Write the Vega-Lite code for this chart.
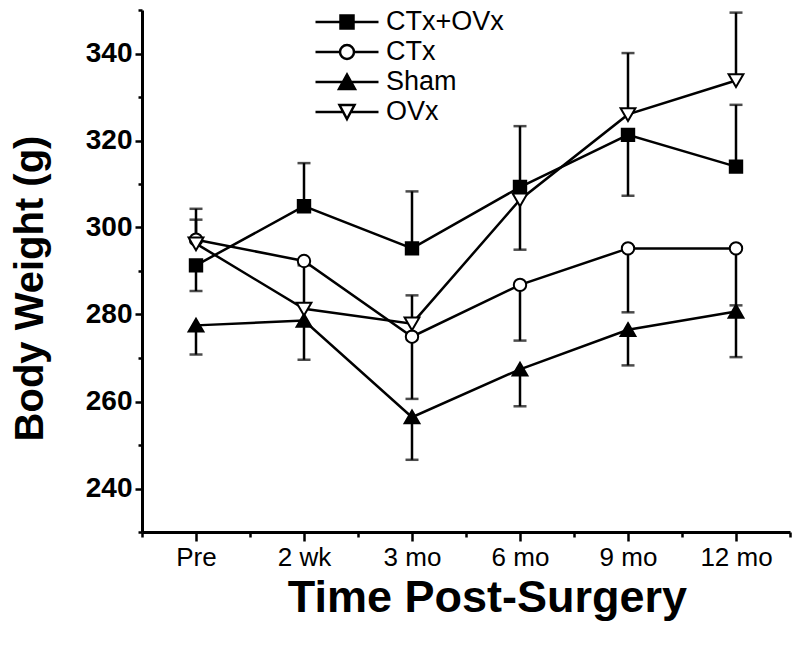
{
  "$schema": "https://vega.github.io/schema/vega-lite/v6.json",
  "width": 648,
  "height": 522,
  "autosize": {"type": "none"},
  "padding": {"left": 142, "top": 10, "right": 10, "bottom": 113},
  "background": "white",
  "config": {"view": {"stroke": null}, "font": "Liberation Sans"},
  "data": {"values": [
    {"time": 1, "series": "CTx+OVx", "weight": 291.3, "lo": 285.4, "hi": 291.3},
    {"time": 2, "series": "CTx+OVx", "weight": 304.9, "lo": 304.9, "hi": 314.8},
    {"time": 3, "series": "CTx+OVx", "weight": 295.2, "lo": 295.2, "hi": 308.3},
    {"time": 4, "series": "CTx+OVx", "weight": 309.3, "lo": 309.3, "hi": 323.3},
    {"time": 5, "series": "CTx+OVx", "weight": 321.3, "lo": 307.3, "hi": 321.3},
    {"time": 6, "series": "CTx+OVx", "weight": 314.0, "lo": 314.0, "hi": 328.2},
    {"time": 1, "series": "CTx", "weight": 297.2, "lo": 297.2, "hi": 304.3},
    {"time": 2, "series": "CTx", "weight": 292.3, "lo": 292.3, "hi": 292.3},
    {"time": 3, "series": "CTx", "weight": 274.9, "lo": 260.6, "hi": 274.9},
    {"time": 4, "series": "CTx", "weight": 286.8, "lo": 274.0, "hi": 286.8},
    {"time": 5, "series": "CTx", "weight": 295.2, "lo": 280.5, "hi": 295.2},
    {"time": 6, "series": "CTx", "weight": 295.2, "lo": 282.1, "hi": 295.2},
    {"time": 1, "series": "Sham", "weight": 277.5, "lo": 270.8, "hi": 277.5},
    {"time": 2, "series": "Sham", "weight": 278.6, "lo": 269.6, "hi": 278.6},
    {"time": 3, "series": "Sham", "weight": 256.4, "lo": 246.6, "hi": 256.4},
    {"time": 4, "series": "Sham", "weight": 267.4, "lo": 258.9, "hi": 267.4},
    {"time": 5, "series": "Sham", "weight": 276.5, "lo": 268.3, "hi": 276.5},
    {"time": 6, "series": "Sham", "weight": 280.7, "lo": 270.2, "hi": 280.7},
    {"time": 1, "series": "OVx", "weight": 296.3, "lo": 296.3, "hi": 301.8},
    {"time": 2, "series": "OVx", "weight": 281.3, "lo": 281.3, "hi": 291.3},
    {"time": 3, "series": "OVx", "weight": 277.9, "lo": 277.9, "hi": 284.4},
    {"time": 4, "series": "OVx", "weight": 306.4, "lo": 294.9, "hi": 306.4},
    {"time": 5, "series": "OVx", "weight": 326.0, "lo": 326.0, "hi": 340.1},
    {"time": 6, "series": "OVx", "weight": 333.8, "lo": 333.8, "hi": 349.4}
  ]},
  "encoding": {
    "x": {
      "field": "time", "type": "quantitative",
      "scale": {"domain": [0.5, 6.5], "nice": false, "zero": false},
      "axis": {
        "values": [0.5, 1, 1.5, 2, 2.5, 3, 3.5, 4, 4.5, 5, 5.5, 6, 6.5],
        "labelExpr": "datum.value % 1 == 0 ? ['', 'Pre', '2 wk', '3 mo', '6 mo', '9 mo', '12 mo'][datum.value] : ''",
        "tickSize": {"condition": {"test": "datum.value % 1 == 0", "value": 9}, "value": 5},
        "tickWidth": 2.5, "tickColor": "black",
        "domainWidth": 3, "domainColor": "black",
        "grid": false,
        "labelFont": "Liberation Sans", "labelFontSize": 26, "labelColor": "black",
        "labelPadding": 3, "labelFlush": false, "labelOverlap": false,
        "title": "Time Post-Surgery",
        "titleFont": "Liberation Sans", "titleFontSize": 45, "titleFontWeight": "bold", "titleColor": "black",
        "titleX": 345, "titleY": 79, "titleBaseline": "alphabetic", "titleAlign": "center"
      }
    },
    "y": {
      "field": "weight", "type": "quantitative",
      "scale": {"domain": [230, 350], "nice": false, "zero": false},
      "axis": {
        "values": [230, 240, 250, 260, 270, 280, 290, 300, 310, 320, 330, 340, 350],
        "labelExpr": "datum.value % 20 == 0 ? datum.value : ''",
        "tickSize": {"condition": {"test": "datum.value % 20 == 0", "value": 7}, "value": 4},
        "tickWidth": 2.5, "tickColor": "black",
        "domainWidth": 3, "domainColor": "black",
        "grid": false,
        "labelFont": "Liberation Sans", "labelFontSize": 28, "labelFontWeight": "bold", "labelColor": "black",
        "labelPadding": 3, "labelOverlap": false, "labelFlush": false,
        "title": "Body Weight (g)",
        "titleFont": "Liberation Sans", "titleFontSize": 40, "titleFontWeight": "bold", "titleColor": "black",
        "titleX": -100, "titleY": 278, "titleAngle": 270, "titleBaseline": "alphabetic", "titleAlign": "center"
      }
    }
  },
  "resolve": {
    "scale": {"shape": "independent", "fill": "independent"},
    "legend": {"shape": "independent", "fill": "independent"}
  },
  "layer": [
    {
      "mark": {"type": "line", "color": "black", "strokeWidth": 2.5},
      "encoding": {"detail": {"field": "series"}}
    },
    {
      "mark": {"type": "rule", "color": "black", "strokeWidth": 2.5},
      "encoding": {
        "y": {"field": "lo", "type": "quantitative", "title": "Body Weight (g)"},
        "y2": {"field": "hi"}
      }
    },
    {
      "transform": [{"filter": "datum.hi > datum.weight"}],
      "mark": {"type": "tick", "orient": "horizontal", "color": "black", "size": 13, "thickness": 2.5},
      "encoding": {"y": {"field": "hi", "type": "quantitative", "title": "Body Weight (g)"}}
    },
    {
      "transform": [{"filter": "datum.lo < datum.weight"}],
      "mark": {"type": "tick", "orient": "horizontal", "color": "black", "size": 13, "thickness": 2.5},
      "encoding": {"y": {"field": "lo", "type": "quantitative", "title": "Body Weight (g)"}}
    },
    {
      "mark": {"type": "point", "filled": false, "stroke": "black", "strokeWidth": 2, "size": 400, "opacity": 1},
      "encoding": {
        "shape": {
          "field": "series", "type": "nominal", "legend": null,
          "scale": {
            "domain": ["CTx+OVx", "CTx", "Sham", "OVx"],
            "range": [
              "M-0.62,-0.62H0.62V0.62H-0.62Z",
              "M0.62,0A0.62,0.62,0,1,1,-0.62,0A0.62,0.62,0,1,1,0.62,0Z",
              "M0,-0.66L0.74,0.62L-0.74,0.62Z",
              "M0,0.66L0.74,-0.62L-0.74,-0.62Z"
            ]
          }
        },
        "fill": {
          "field": "series", "type": "nominal", "legend": null,
          "scale": {"domain": ["CTx+OVx", "CTx", "Sham", "OVx"], "range": ["black", "white", "black", "white"]}
        }
      }
    },
    {
      "mark": {"type": "point", "filled": false, "stroke": "black", "strokeWidth": 2.5, "opacity": 0},
      "encoding": {
        "shape": {
          "field": "series", "type": "nominal",
          "scale": {
            "domain": ["CTx+OVx", "CTx", "Sham", "OVx"],
            "range": [
              "M-6.3,0H6.3M-1.3,-1.3H1.3V1.3H-1.3Z",
              "M-6.3,0H-1.4M1.4,0H6.3M1.4,0A1.4,1.4,0,1,1,-1.4,0A1.4,1.4,0,1,1,1.4,0Z",
              "M-6.3,0H6.3M0,-1.5L1.6,1.4L-1.6,1.4Z",
              "M-6.3,0H-0.75M0.75,0H6.3M0,1.4L1.5,-1.4L-1.5,-1.4Z"
            ]
          },
          "legend": {
            "title": null, "orient": "none", "legendX": 191.5, "legendY": -1.5,
            "symbolSize": 100, "symbolStrokeWidth": 2.5, "symbolStrokeColor": "black",
            "labelFont": "Liberation Sans", "labelFontSize": 27, "labelColor": "black",
            "labelOffset": 25.5, "rowPadding": 2, "padding": 0, "labelLimit": 300,
            "symbolOpacity": 1,
            "encode": {"symbols": {"update": {"opacity": {"value": 1}, "stroke": {"value": "black"}, "strokeWidth": {"value": 2.5}}}}
          }
        },
        "fill": {
          "field": "series", "type": "nominal",
          "scale": {"domain": ["CTx+OVx", "CTx", "Sham", "OVx"], "range": ["black", "white", "black", "white"]},
          "legend": {
            "title": null, "orient": "none", "legendX": 191.5, "legendY": -1.5,
            "symbolSize": 100, "symbolStrokeWidth": 2.5, "symbolStrokeColor": "black",
            "labelFont": "Liberation Sans", "labelFontSize": 27, "labelColor": "black",
            "labelOffset": 25.5, "rowPadding": 2, "padding": 0, "labelLimit": 300,
            "symbolOpacity": 1,
            "encode": {"symbols": {"update": {"opacity": {"value": 1}, "stroke": {"value": "black"}, "strokeWidth": {"value": 2.5}}}}
          }
        }
      }
    }
  ]
}
